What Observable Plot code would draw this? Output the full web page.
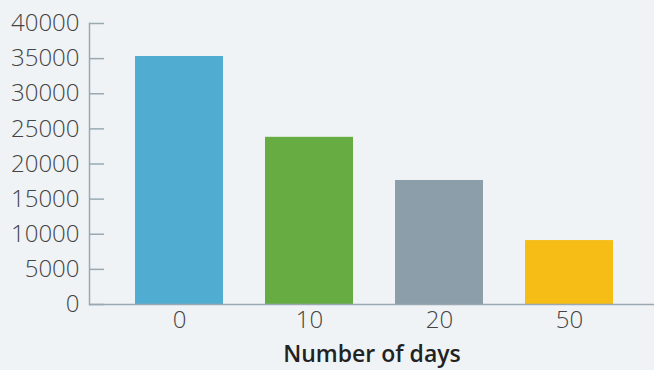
<!DOCTYPE html>
<html><head><meta charset="utf-8">
<script src="https://cdn.jsdelivr.net/npm/d3@7"></script>
<script src="https://cdn.jsdelivr.net/npm/@observablehq/plot@0.6"></script>
<style>
html,body{margin:0;padding:0;background:#eff3f6;}
#chart svg{display:block;background:#eff3f6;}
</style></head>
<body><div id="chart"></div>
<script>
const days = ["0", "10", "20", "50"];
const counts = [35300, 23800, 17650, 9100];
const colors = ["#50acd0", "#66ac43", "#8c9ea9", "#f6bd17"];
const yTicks = [0, 5000, 10000, 15000, 20000, 25000, 30000, 35000, 40000];

const data = days.map((d, i) => ({day: d, count: counts[i], color: colors[i]}));

const chart = Plot.plot({
  width: 654, height: 370,
  marginLeft: 89, marginRight: 0, marginTop: 23, marginBottom: 66,
  style: {background: "#eff3f6", fontFamily: "'Open Sans', sans-serif", color: "#444"},
  x: {type: "band", domain: days, range: [113, 636], paddingInner: 0.32, paddingOuter: 0.16},
  y: {domain: [0, 40000]},
  marks: [
    Plot.barY(data, {x: "day", y: "count", fill: "color"}),
    Plot.frame({anchor: "left", stroke: "#9aa8b2", strokeWidth: 1.5}),
    Plot.ruleY([0], {stroke: "#9aa8b2", strokeWidth: 1.5}),
    Plot.axisY(yTicks, {tickSize: -15, tickPadding: 25, stroke: "#9aa8b2", strokeWidth: 1.5, fontSize: 24, fontWeight: 300, fill: "#444", tickFormat: d => String(d), label: null}),
    Plot.axisX({tickSize: 0, tickPadding: 6, fontSize: 24, fontWeight: 300, fill: "#444", label: null}),
    Plot.text(["Number of days"], {frameAnchor: "bottom", dy: 57, fontSize: 23, fontWeight: 600, fill: "#222"})
  ]
});
document.getElementById("chart").append(chart);
</script></body></html>
